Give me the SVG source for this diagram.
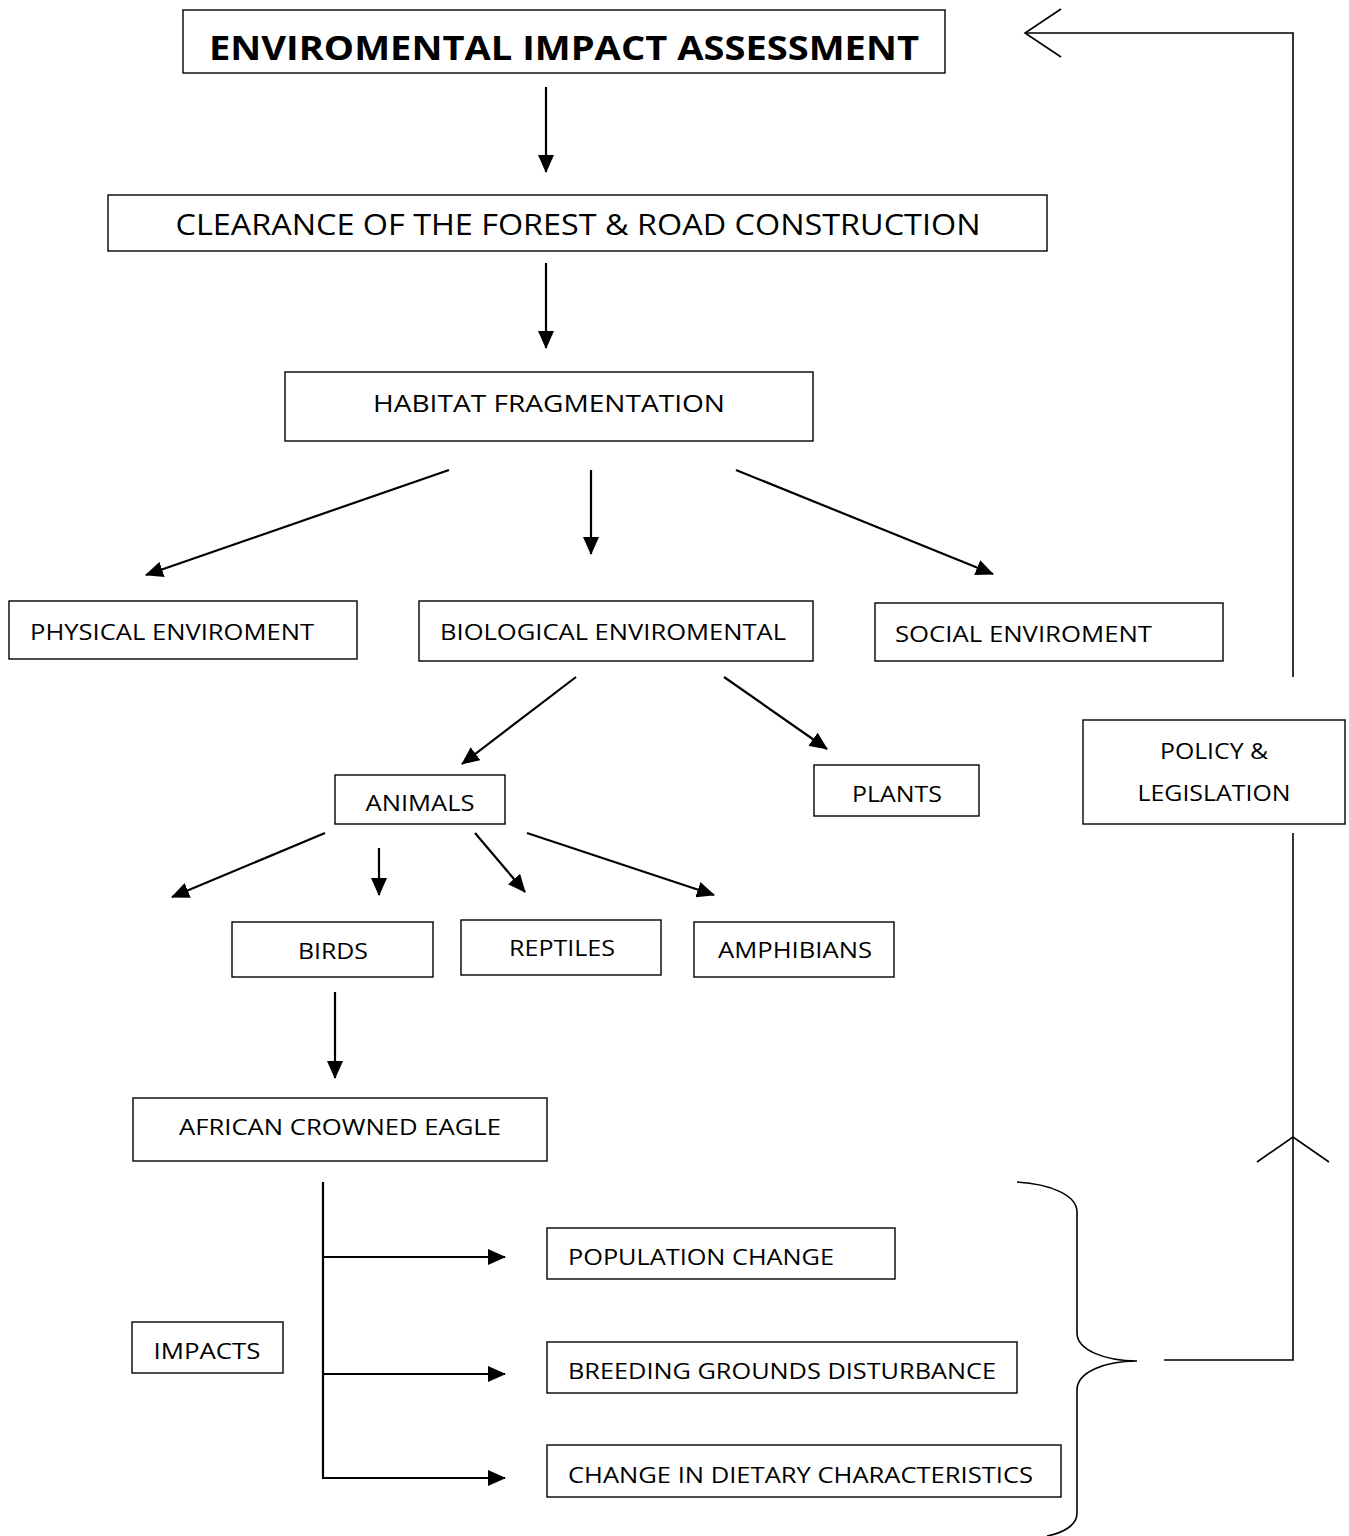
<svg xmlns="http://www.w3.org/2000/svg" width="1349" height="1536" viewBox="0 0 1349 1536">
<style>
.box{fill:#fff;stroke:#000;stroke-width:1.4}
.t{font-family:"Open Sans","Liberation Sans",sans-serif;font-size:22px;fill:#000}
.c{text-anchor:middle}
.ln{stroke:#000;stroke-width:2.2;fill:none}
.thin{stroke:#000;stroke-width:1.6;fill:none}
</style>
<defs>
<marker id="ah" markerWidth="10" markerHeight="10" refX="9" refY="5" orient="auto" markerUnits="userSpaceOnUse" viewBox="0 0 10 10">
<path d="M0,0 L10,5 L0,10 Z" fill="#000"/>
</marker>
<marker id="ahb" markerWidth="18" markerHeight="16" refX="17" refY="8" orient="auto" markerUnits="userSpaceOnUse" viewBox="0 0 18 16">
<path d="M0,0 L18,8 L0,16 Z" fill="#000"/>
</marker>
</defs>
<g id="connectors">
<line class="ln" x1="546" y1="87" x2="546" y2="172" marker-end="url(#ahb)"/>
<line class="ln" x1="546" y1="263" x2="546" y2="348" marker-end="url(#ahb)"/>
<line class="ln" x1="449" y1="470" x2="146" y2="575" marker-end="url(#ahb)"/>
<line class="ln" x1="591" y1="470" x2="591" y2="554" marker-end="url(#ahb)"/>
<line class="ln" x1="736" y1="470" x2="993" y2="574" marker-end="url(#ahb)"/>
<line class="ln" x1="576" y1="677" x2="462" y2="764" marker-end="url(#ahb)"/>
<line class="ln" x1="724" y1="677" x2="827" y2="749" marker-end="url(#ahb)"/>
<line class="ln" x1="325" y1="833" x2="172" y2="897" marker-end="url(#ahb)"/>
<line class="ln" x1="379" y1="848" x2="379" y2="895" marker-end="url(#ahb)"/>
<line class="ln" x1="475" y1="833" x2="525" y2="892" marker-end="url(#ahb)"/>
<line class="ln" x1="527" y1="833" x2="714" y2="895" marker-end="url(#ahb)"/>
<line class="ln" x1="335" y1="992" x2="335" y2="1078" marker-end="url(#ahb)"/>
<line class="ln" x1="323" y1="1182" x2="323" y2="1478"/>
<line class="ln" x1="322" y1="1257" x2="505" y2="1257" marker-end="url(#ahb)"/>
<line class="ln" x1="322" y1="1374" x2="505" y2="1374" marker-end="url(#ahb)"/>
<line class="ln" x1="322" y1="1478" x2="505" y2="1478" marker-end="url(#ahb)"/>
<path class="thin" d="M1017,1182 C1050,1184 1077,1195 1077,1212 L1077,1333 C1077,1350 1105,1361 1137,1361 C1105,1361 1077,1372 1077,1390 L1077,1513 C1077,1526 1062,1533 1047,1536"/>
<polyline class="thin" points="1164,1360 1293,1360 1293,833"/>
<polyline class="thin" points="1257,1162 1293,1137 1329,1162"/>
<polyline class="thin" points="1293,677 1293,33 1025,33"/>
<polyline class="thin" points="1061,9 1025,33 1061,57"/>
</g>
<g id="n-eia">
<rect class="box" x="183" y="10" width="762" height="63"/>
<text class="t c" x="564" y="60" style="font-size:34px;font-weight:bold" textLength="710" lengthAdjust="spacingAndGlyphs">ENVIROMENTAL IMPACT ASSESSMENT</text>
</g>
<g id="n-clearance">
<rect class="box" x="108" y="195" width="939" height="56"/>
<text class="t c" x="578" y="235" style="font-size:30px" textLength="805" lengthAdjust="spacingAndGlyphs">CLEARANCE OF THE FOREST &amp; ROAD CONSTRUCTION</text>
</g>
<g id="n-habitat">
<rect class="box" x="285" y="372" width="528" height="69"/>
<text class="t c" x="549" y="412" style="font-size:24px" textLength="352" lengthAdjust="spacingAndGlyphs">HABITAT FRAGMENTATION</text>
</g>
<g id="n-physical">
<rect class="box" x="9" y="601" width="348" height="58"/>
<text class="t" x="30" y="640" textLength="284" lengthAdjust="spacingAndGlyphs">PHYSICAL ENVIROMENT</text>
</g>
<g id="n-biological">
<rect class="box" x="419" y="601" width="394" height="60"/>
<text class="t" x="440" y="640" textLength="346" lengthAdjust="spacingAndGlyphs">BIOLOGICAL ENVIROMENTAL</text>
</g>
<g id="n-social">
<rect class="box" x="875" y="603" width="348" height="58"/>
<text class="t" x="895" y="642" textLength="257" lengthAdjust="spacingAndGlyphs">SOCIAL ENVIROMENT</text>
</g>
<g id="n-animals">
<rect class="box" x="335" y="775" width="170" height="49"/>
<text class="t c" x="420" y="811" textLength="109" lengthAdjust="spacingAndGlyphs">ANIMALS</text>
</g>
<g id="n-plants">
<rect class="box" x="814" y="765" width="165" height="51"/>
<text class="t c" x="897" y="802" textLength="90" lengthAdjust="spacingAndGlyphs">PLANTS</text>
</g>
<g id="n-policy">
<rect class="box" x="1083" y="720" width="262" height="104"/>
<text class="t c" x="1214" y="759" textLength="108" lengthAdjust="spacingAndGlyphs">POLICY &amp;</text>
<text class="t c" x="1214" y="801" textLength="153" lengthAdjust="spacingAndGlyphs">LEGISLATION</text>
</g>
<g id="n-birds">
<rect class="box" x="232" y="922" width="201" height="55"/>
<text class="t c" x="333" y="959" textLength="70" lengthAdjust="spacingAndGlyphs">BIRDS</text>
</g>
<g id="n-reptiles">
<rect class="box" x="461" y="920" width="200" height="55"/>
<text class="t c" x="562" y="956" textLength="106" lengthAdjust="spacingAndGlyphs">REPTILES</text>
</g>
<g id="n-amphibians">
<rect class="box" x="694" y="922" width="200" height="55"/>
<text class="t c" x="795" y="958" textLength="154" lengthAdjust="spacingAndGlyphs">AMPHIBIANS</text>
</g>
<g id="n-eagle">
<rect class="box" x="133" y="1098" width="414" height="63"/>
<text class="t c" x="340" y="1135" textLength="322" lengthAdjust="spacingAndGlyphs">AFRICAN CROWNED EAGLE</text>
</g>
<g id="n-population">
<rect class="box" x="547" y="1228" width="348" height="51"/>
<text class="t" x="568" y="1265" textLength="266" lengthAdjust="spacingAndGlyphs">POPULATION CHANGE</text>
</g>
<g id="n-impacts">
<rect class="box" x="132" y="1322" width="151" height="51"/>
<text class="t c" x="207" y="1359" textLength="107" lengthAdjust="spacingAndGlyphs">IMPACTS</text>
</g>
<g id="n-breeding">
<rect class="box" x="547" y="1342" width="470" height="51"/>
<text class="t" x="568" y="1379" textLength="428" lengthAdjust="spacingAndGlyphs">BREEDING GROUNDS DISTURBANCE</text>
</g>
<g id="n-dietary">
<rect class="box" x="547" y="1445" width="514" height="52"/>
<text class="t" x="568" y="1483" textLength="465" lengthAdjust="spacingAndGlyphs">CHANGE IN DIETARY CHARACTERISTICS</text>
</g>
</svg>
